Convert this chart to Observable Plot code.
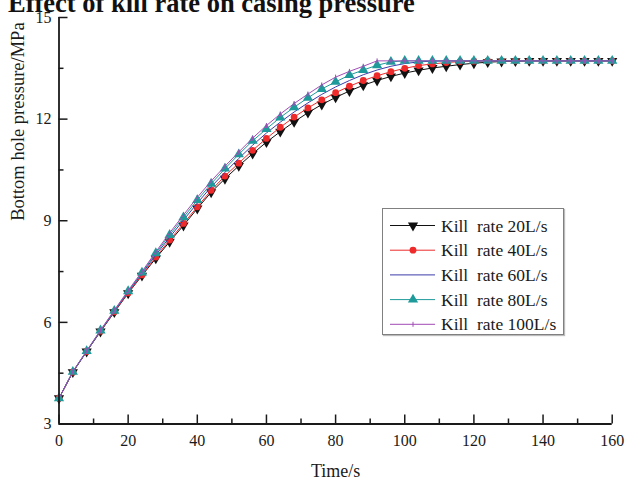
<!DOCTYPE html>
<html>
<head>
<meta charset="utf-8">
<script src="https://cdn.jsdelivr.net/npm/d3@7"></script>
<script src="https://cdn.jsdelivr.net/npm/@observablehq/plot@0.6"></script>
<style>
html, body { margin: 0; padding: 0; background: #fff; overflow: hidden; }
#wrap { position: relative; width: 625px; height: 480px; font-family: "Liberation Serif", "Times New Roman", serif; }
#title { position: absolute; left: 8px; top: -12px; font-size: 26.5px; font-weight: bold; line-height: 30px; white-space: nowrap; color: #111; z-index: 2; }
#legend { position: absolute; left: 382px; top: 208px; width: 180px; height: 125px; border: 1px solid #808080; background: #fff; box-shadow: 1px 1px 1px #bbb; }
#legend svg { position: absolute; left: 0; top: 0; }
</style>
</head>
<body>
<div id="wrap">
  <div id="title">Effect of kill rate on casing pressure</div>
  <div id="chart"></div>
  <div id="legend"></div>
</div>
<script>
// ---- data ----
const time = [0,4,8,12,16,20,24,28,32,36,40,44,48,52,56,60,64,68,72,76,80,84,88,92,96,100,104,108,112,116,120,124,128,132,136,140,144,148,152,156,160];

const rate20  = [3.76,4.53,5.14,5.73,6.30,6.86,7.38,7.89,8.38,8.86,9.36,9.84,10.24,10.62,10.98,11.32,11.63,11.92,12.19,12.43,12.64,12.83,13.00,13.14,13.26,13.36,13.44,13.51,13.56,13.61,13.65,13.68,13.70,13.71,13.72,13.72,13.72,13.72,13.72,13.72,13.72];
const rate40  = [3.76,4.53,5.14,5.74,6.31,6.87,7.40,7.93,8.43,8.92,9.41,9.90,10.32,10.70,11.08,11.43,11.76,12.06,12.33,12.57,12.78,12.97,13.14,13.28,13.40,13.50,13.58,13.63,13.67,13.70,13.71,13.72,13.72,13.72,13.72,13.72,13.72,13.72,13.72,13.72,13.72];
const rate60  = [3.76,4.54,5.15,5.75,6.33,6.90,7.44,7.99,8.51,9.02,9.52,10.00,10.43,10.84,11.23,11.59,11.91,12.21,12.48,12.73,12.95,13.14,13.31,13.45,13.56,13.64,13.69,13.71,13.72,13.72,13.72,13.72,13.72,13.72,13.72,13.72,13.72,13.72,13.72,13.72,13.72];
const rate80  = [3.76,4.54,5.15,5.76,6.34,6.92,7.47,8.04,8.58,9.10,9.61,10.09,10.54,10.96,11.36,11.71,12.05,12.35,12.63,12.89,13.10,13.30,13.45,13.59,13.69,13.72,13.72,13.72,13.72,13.72,13.72,13.72,13.72,13.72,13.72,13.72,13.72,13.72,13.72,13.72,13.72];
const rate100 = [3.76,4.55,5.16,5.77,6.36,6.94,7.50,8.08,8.64,9.17,9.69,10.17,10.61,11.03,11.44,11.81,12.15,12.46,12.74,13.01,13.24,13.41,13.56,13.72,13.72,13.72,13.72,13.72,13.72,13.72,13.72,13.72,13.72,13.72,13.72,13.72,13.72,13.72,13.72,13.72,13.72];

const seriesNames = ["Kill  rate 20L/s", "Kill  rate 40L/s", "Kill  rate 60L/s", "Kill  rate 80L/s", "Kill  rate 100L/s"];
const seriesValues = [rate20, rate40, rate60, rate80, rate100];
const seriesColors = ["#111111", "#ee2a2a", "#3c3caa", "#1f9a9a", "#a24cb6"];
const seriesMarkers = ["down", "circle", "none", "up", "tick"];

const xMajor = [0,20,40,60,80,100,120,140,160];
const xMinor = [10,30,50,70,90,110,130,150];
const yMajor = [3,6,9,12,15];
const yMinor = [4.5,7.5,10.5,13.5];

const xLabel = "Time/s";
const yLabel = "Bottom hole pressure/MPa";

// ---- build ----
const W = 625, H = 480;
const mL = 58.5, mR = 13.3, mT = 17, mB = 56.5;
const frameW = W - mL - mR, frameH = H - mT - mB;
const axisColor = "#1a1a1a";

const tickSymbol = {
  draw(context, size) {
    const r = Math.sqrt(size / Math.PI);
    context.moveTo(0, -r);
    context.lineTo(0, r);
  }
};

const marks = [];
seriesValues.forEach((vals, i) => {
  const rows = vals.map((v, j) => ({t: time[j], p: v}));
  const c = seriesColors[i];
  marks.push(Plot.line(rows, {x: "t", y: "p", stroke: c, strokeWidth: 1}));
  const m = seriesMarkers[i];
  if (m === "down") marks.push(Plot.dot(rows, {x: "t", y: "p", symbol: "triangle", rotate: 180, r: 3.8, fill: c, stroke: "none"}));
  if (m === "up") marks.push(Plot.dot(rows, {x: "t", y: "p", symbol: "triangle", r: 3.8, fill: c, stroke: "none"}));
  if (m === "circle") marks.push(Plot.dot(rows, {x: "t", y: "p", symbol: "circle", r: 3.4, fill: c, stroke: "none"}));
  if (m === "tick") marks.push(Plot.dot(rows, {x: "t", y: "p", symbol: tickSymbol, r: 2.5, stroke: c, strokeWidth: 1, fill: "none"}));
});

const chart = Plot.plot({
  width: W, height: H,
  marginLeft: mL, marginRight: mR, marginTop: mT, marginBottom: mB,
  style: {fontFamily: '"Liberation Serif", "Times New Roman", serif', fontSize: "16px", background: "transparent", color: axisColor},
  x: {domain: [0, 160]},
  y: {domain: [3, 15]},
  marks: [
    ...marks,
    // inward ticks
    Plot.tickX(xMajor, {x: d => d, insetTop: frameH - 9, stroke: axisColor, strokeWidth: 1.5}),
    Plot.tickX(xMinor, {x: d => d, insetTop: frameH - 5, stroke: axisColor, strokeWidth: 1.5}),
    Plot.tickY(yMajor, {y: d => d, insetRight: frameW - 9, stroke: axisColor, strokeWidth: 1.5}),
    Plot.tickY(yMinor, {y: d => d, insetRight: frameW - 5, stroke: axisColor, strokeWidth: 1.5}),
    // axis lines
    Plot.ruleY([3], {stroke: axisColor, strokeWidth: 1.8}),
    Plot.ruleX([0], {stroke: axisColor, strokeWidth: 1.8}),
    // tick labels
    Plot.axisX({ticks: xMajor, tickSize: 0, tickPadding: 11, label: null, fontSize: 16}),
    Plot.axisY({ticks: yMajor, tickSize: 0, tickPadding: 7.5, label: null, fontSize: 16}),
    // axis titles
    Plot.text([xLabel], {frameAnchor: "bottom", dy: 47, fontSize: 18, fill: axisColor, lineAnchor: "middle"}),
    Plot.text([yLabel], {frameAnchor: "left", dx: -40.5, rotate: -90, fontSize: 18.5, fill: axisColor, lineAnchor: "middle"})
  ]
});
document.getElementById("chart").appendChild(chart);

// ---- legend ----
const lg = d3.select("#legend").append("svg").attr("width", 180).attr("height", 125)
  .style("font-family", '"Liberation Serif", "Times New Roman", serif');
seriesNames.forEach((name, i) => {
  const cy = 16.5 + 24.7 * i;
  const c = seriesColors[i];
  const g = lg.append("g");
  g.append("line").attr("x1", 7).attr("x2", 52).attr("y1", cy).attr("y2", cy).attr("stroke", c).attr("stroke-width", 1);
  const m = seriesMarkers[i];
  const mx = 30;
  if (m === "down" || m === "up") {
    g.append("path").attr("d", d3.symbol(d3.symbolTriangle, 3.8 * 3.8 * Math.PI)())
      .attr("transform", `translate(${mx},${cy}) rotate(${m === "down" ? 180 : 0})`).attr("fill", c);
  } else if (m === "circle") {
    g.append("circle").attr("cx", mx).attr("cy", cy).attr("r", 3.4).attr("fill", c);
  } else if (m === "tick") {
    g.append("line").attr("x1", mx).attr("x2", mx).attr("y1", cy - 2.5).attr("y2", cy + 2.5).attr("stroke", c).attr("stroke-width", 1);
  }
  g.append("text").attr("x", 58).attr("y", cy).attr("dy", "0.35em").attr("font-size", 17.5)
    .attr("fill", "#1a1a1a").attr("xml:space", "preserve").style("white-space", "pre").text(name);
});
</script>
</body>
</html>
